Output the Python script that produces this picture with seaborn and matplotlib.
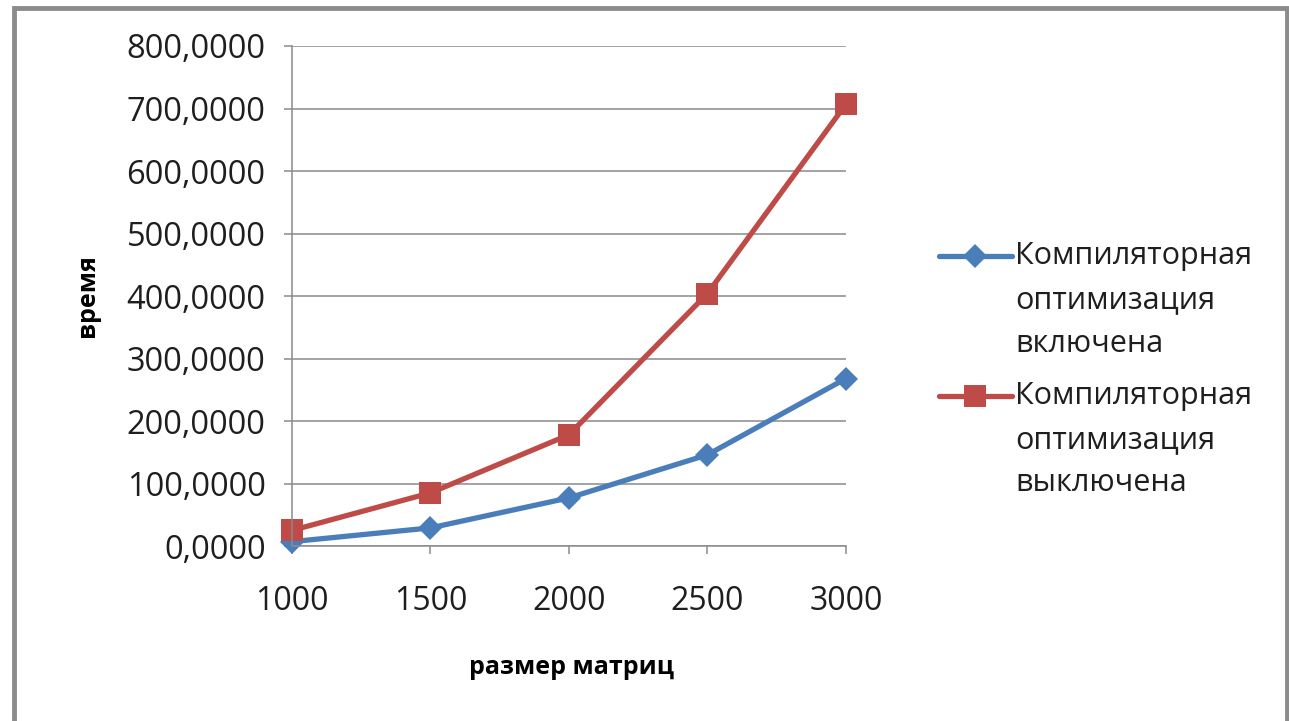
import matplotlib
matplotlib.use("Agg")
import matplotlib.pyplot as plt
import matplotlib.patches as mpatches
from matplotlib.ticker import FuncFormatter
import seaborn as sns
import pandas as pd

# Matrix sizes and measured run times
sizes = [1000, 1500, 2000, 2500, 3000]
time_opt_on = [7, 29, 77, 146, 268]
time_opt_off = [25, 85, 178, 404, 707]
series_names = [
    "Компиляторная\nоптимизация\nвключена",
    "Компиляторная\nоптимизация\nвыключена",
]
y_ticks = [0, 100, 200, 300, 400, 500, 600, 700, 800]

BLUE = "#4a7ebb"
RED = "#be4b48"
GRID = "#8a8a8a"
TEXT = "#1e1e1e"

df = pd.DataFrame({
    "size": sizes * 2,
    "time": time_opt_on + time_opt_off,
    "series": [series_names[0]] * len(sizes) + [series_names[1]] * len(sizes),
})

sns.set_theme(style="white")
plt.rcParams["font.family"] = ["Open Sans", "DejaVu Sans"]

fig = plt.figure(figsize=(12.89, 7.21), dpi=100)
ax = fig.add_axes([0.2265, 0.2427, 0.4298, 0.6935])

sns.lineplot(
    data=df, x="size", y="time", hue="series", style="series",
    palette=[BLUE, RED], markers=["D", "s"], dashes=False,
    linewidth=3.8, markeredgewidth=0, ax=ax, legend=True,
)
marker_sizes = {"D": 12.5, "s": 16}
for line in ax.lines:
    line.set_clip_on(False)
    m = line.get_marker()
    if m in marker_sizes:
        line.set_markersize(marker_sizes[m])

ax.set_xlim(sizes[0], sizes[-1])
ax.set_ylim(y_ticks[0], y_ticks[-1])
ax.set_xticks(sizes)
ax.set_yticks(y_ticks)
ax.yaxis.set_major_formatter(FuncFormatter(lambda v, _: f"{v:.4f}".replace(".", ",")))

ax.grid(axis="y", color=GRID, linewidth=1.1)
ax.set_axisbelow(True)
for side in ("top", "right"):
    ax.spines[side].set_visible(False)
for side in ("left", "bottom"):
    ax.spines[side].set_color(GRID)
    ax.spines[side].set_linewidth(1.1)

ax.tick_params(axis="x", direction="out", length=6, width=1.1, color=GRID,
               pad=22, labelsize=23, labelcolor=TEXT, bottom=True)
ax.tick_params(axis="y", direction="out", length=6, width=1.1, color=GRID,
               pad=13, labelsize=23.5, labelcolor=TEXT, left=True)

ax.set_xlabel("размер матриц", fontsize=18, fontweight="bold", color="black")
ax.set_ylabel("время", fontsize=18, fontweight="bold", color="black")
ax.xaxis.set_label_coords(0.505, -0.218)
ax.yaxis.set_label_coords(-0.347, 0.5)

# Legend to the right of the plot, handles next to the first text line
handles, labels = ax.get_legend_handles_labels()
ax.get_legend().remove()
leg = fig.legend(
    handles, labels, loc="center left", bbox_to_anchor=(0.707, 0.487),
    frameon=False, fontsize=22, handlelength=2.4, handletextpad=0.1,
    labelspacing=0.72, handleheight=1.6,
)
for t in leg.get_texts():
    t.set_color(TEXT)
    t.set_linespacing(1.6)
for col in leg._legend_handle_box.get_children():
    for row in col.get_children():
        row.align = "top"

# Chart-area border
fig.patches.append(mpatches.Rectangle(
    (14, -20), 1273, 733, transform=None, fill=False,
    edgecolor="#8c8c8c", linewidth=3.5, figure=fig,
))

fig.savefig("out.png", dpi=100)
